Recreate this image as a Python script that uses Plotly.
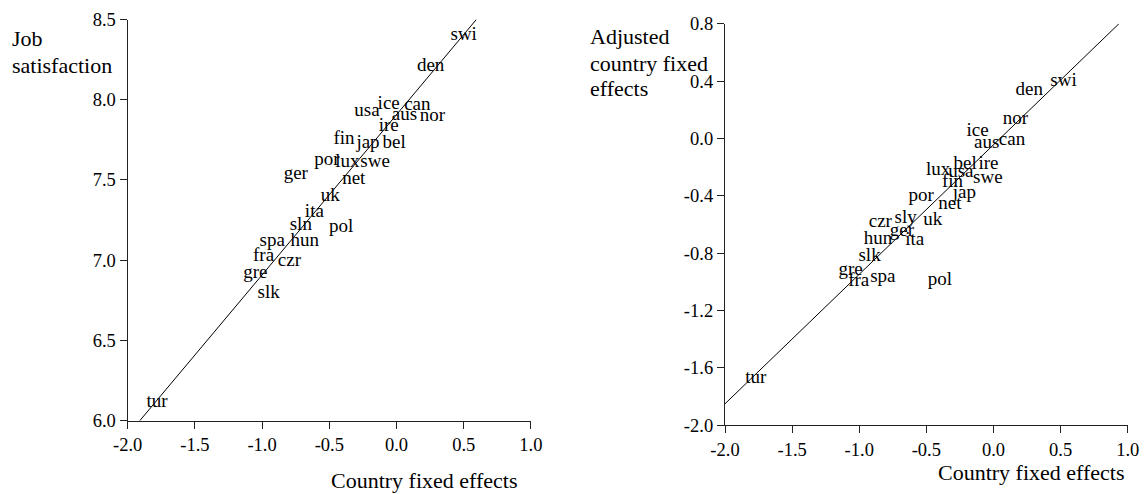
import plotly.graph_objects as go

W, H = 1145, 494
FONT = "Liberation Serif"

# ---- Left panel data: country fixed effects vs job satisfaction ----
left_labels = ["swi", "den", "ice", "can", "usa", "aus", "nor", "ire", "fin", "jap",
               "bel", "por", "lux", "swe", "ger", "net", "uk", "ita", "sln", "pol",
               "spa", "hun", "fra", "czr", "gre", "slk", "tur"]
left_x = [0.50, 0.254, -0.058, 0.155, -0.220, 0.059, 0.267, -0.058, -0.390, -0.212,
          -0.017, -0.518, -0.366, -0.159, -0.749, -0.318, -0.492, -0.611, -0.712, -0.412,
          -0.925, -0.683, -0.989, -0.797, -1.050, -0.951, -1.781]
left_y = [8.40, 8.21, 7.975, 7.965, 7.927, 7.902, 7.896, 7.834, 7.751, 7.730,
          7.730, 7.622, 7.608, 7.608, 7.535, 7.504, 7.398, 7.297, 7.218, 7.207,
          7.120, 7.120, 7.025, 6.996, 6.917, 6.797, 6.112]
left_fit_x = [-1.91, 0.594]
left_fit_y = [6.0, 8.5]

# ---- Right panel data: country fixed effects vs adjusted fixed effects ----
right_labels = ["swi", "den", "nor", "ice", "aus", "can", "bel", "ire", "lux", "usa",
                "fin", "swe", "jap", "por", "net", "czr", "sly", "uk", "ger", "hun",
                "ita", "slk", "gre", "fra", "spa", "pol", "tur"]
right_x = [0.522, 0.267, 0.164, -0.118, -0.050, 0.138, -0.211, -0.037, -0.413, -0.243,
           -0.305, -0.042, -0.217, -0.539, -0.324, -0.843, -0.654, -0.453, -0.682, -0.861,
           -0.587, -0.923, -1.065, -1.004, -0.824, -0.400, -1.770]
right_y = [0.396, 0.333, 0.136, 0.048, -0.033, -0.010, -0.179, -0.177, -0.219, -0.238,
           -0.307, -0.281, -0.381, -0.405, -0.458, -0.586, -0.555, -0.572, -0.644, -0.706,
           -0.711, -0.818, -0.922, -0.997, -0.966, -0.990, -1.669]
right_fit_x = [-2.0, 0.935]
right_fit_y = [-1.85, 0.8]

left_xticks = [-2.0, -1.5, -1.0, -0.5, 0.0, 0.5, 1.0]
left_yticks = [6.0, 6.5, 7.0, 7.5, 8.0, 8.5]
right_xticks = [-2.0, -1.5, -1.0, -0.5, 0.0, 0.5, 1.0]
right_yticks = [-2.0, -1.6, -1.2, -0.8, -0.4, 0.0, 0.4, 0.8]


def fmt(vals):
    return ["%.1f" % v for v in vals]


def fx(px):
    return px / W


def fy(py):
    return 1 - py / H


fig = go.Figure()

fig.add_trace(go.Scatter(x=left_fit_x, y=left_fit_y, mode="lines",
                         line=dict(color="black", width=1), xaxis="x", yaxis="y",
                         hoverinfo="skip", showlegend=False))
fig.add_trace(go.Scatter(x=left_x, y=left_y, text=left_labels, mode="text",
                         textposition="middle center",
                         textfont=dict(family=FONT, size=19, color="black"),
                         xaxis="x", yaxis="y", showlegend=False))
fig.add_trace(go.Scatter(x=right_fit_x, y=right_fit_y, mode="lines",
                         line=dict(color="black", width=1), xaxis="x2", yaxis="y2",
                         hoverinfo="skip", showlegend=False))
fig.add_trace(go.Scatter(x=right_x, y=right_y, text=right_labels, mode="text",
                         textposition="middle center",
                         textfont=dict(family=FONT, size=19, color="black"),
                         xaxis="x2", yaxis="y2", showlegend=False))

axis_common = dict(showline=True, linecolor="#222222", linewidth=1.3, ticks="outside",
                   ticklen=7, tickcolor="#222222", tickwidth=1.3, showgrid=False,
                   zeroline=False, automargin=False, tickmode="array",
                   tickfont=dict(family=FONT, size=18.5, color="black"))

fig.update_layout(
    template="none",
    width=W, height=H,
    margin=dict(l=0, r=0, t=0, b=0, pad=0, autoexpand=False),
    paper_bgcolor="white", plot_bgcolor="white",
    font=dict(family=FONT, color="black"),
    xaxis=dict(domain=[fx(127.7), fx(530.9)], range=[-2, 1], tickvals=left_xticks,
               ticktext=fmt(left_xticks), anchor="y", **axis_common),
    yaxis=dict(domain=[fy(420.7), fy(19.5)], range=[6, 8.5], tickvals=left_yticks,
               ticktext=fmt(left_yticks), anchor="x", **axis_common),
    xaxis2=dict(domain=[fx(725), fx(1127.7)], range=[-2, 1], tickvals=right_xticks,
                ticktext=fmt(right_xticks), anchor="y2", **axis_common),
    yaxis2=dict(domain=[fy(425.3), fy(23.7)], range=[-2, 0.8], tickvals=right_yticks,
                ticktext=fmt(right_yticks), anchor="x2", **axis_common),
)

title_font = dict(family=FONT, size=22, color="black")
annotations = [
    dict(text="Job", x=fx(11), y=fy(38.5), xanchor="left"),
    dict(text="satisfaction", x=fx(11), y=fy(65.5), xanchor="left"),
    dict(text="Country fixed effects", x=fx(424), y=fy(480.5), xanchor="center"),
    dict(text="Adjusted", x=fx(588.5), y=fy(36.5), xanchor="left"),
    dict(text="country fixed", x=fx(588.5), y=fy(63), xanchor="left"),
    dict(text="effects", x=fx(588.5), y=fy(89), xanchor="left"),
    dict(text="Country fixed effects", x=fx(1031.7), y=fy(472), xanchor="center"),
]
for a in annotations:
    a.update(xref="paper", yref="paper", yanchor="middle", showarrow=False,
             font=title_font, borderpad=0)
fig.update_layout(annotations=annotations)

fig.write_html("out.html")
